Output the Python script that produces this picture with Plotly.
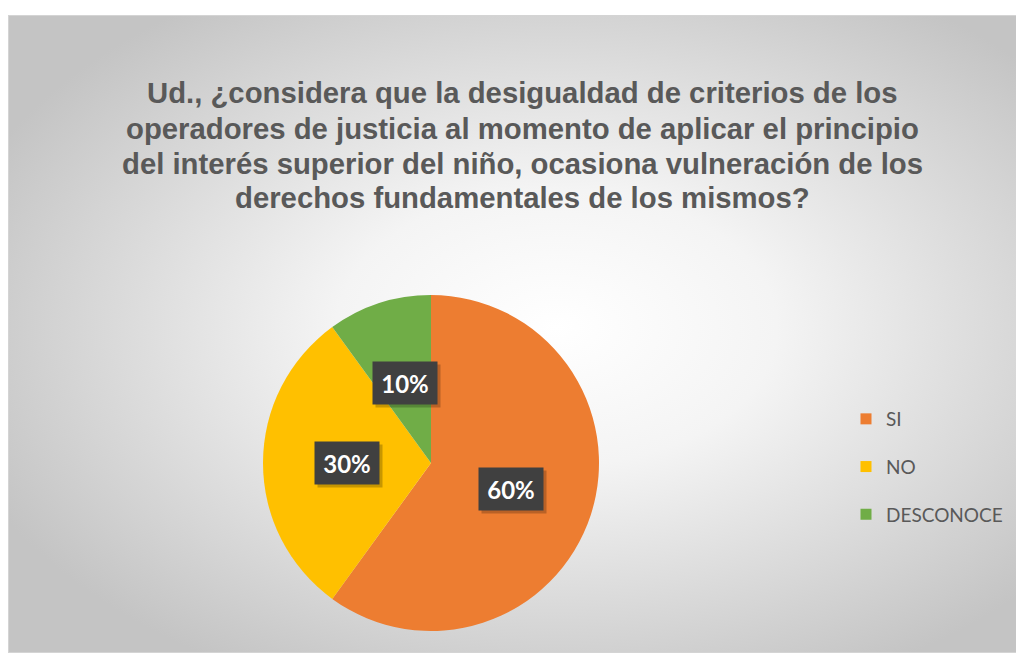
import base64
import math
import plotly.graph_objects as go

# ---- data ----
categories = ["SI", "NO", "DESCONOCE"]
values = [60, 30, 10]
colors = ["#ED7D31", "#FFC000", "#70AD47"]
title_lines = [
    "Ud., ¿considera que la desigualdad de criterios de los",
    "operadores de justicia al momento de aplicar el principio",
    "del interés superior del niño, ocasiona vulneración de los",
    "derechos fundamentales de los mismos?",
]

# figure is placed by the page with an 8px body margin
W, H = 1016, 645
dom_x = [255 / W, 591 / W]
dom_y = [22 / H, 358 / H]

fig = go.Figure()
fig.add_trace(go.Pie(
    labels=categories, values=values, sort=False, direction="clockwise",
    rotation=0, marker=dict(colors=colors, line=dict(width=0)),
    textinfo="none", showlegend=False,
    domain=dict(x=dom_x, y=dom_y),
))

# legend entries
for c, col in zip(categories, colors):
    fig.add_trace(go.Scatter(
        x=[None], y=[None], mode="markers", name=c, legendgroup=c,
        marker=dict(symbol="square", size=11, color=col),
    ))

# label boxes computed from data
total = sum(values)
cx = (dom_x[0] + dom_x[1]) / 2 * W
cy = (1 - (dom_y[0] + dom_y[1]) / 2) * H
r = min((dom_x[1] - dom_x[0]) * W, (dom_y[1] - dom_y[0]) * H) / 2
annotations = []
cum = 0
for v in values:
    mid = (cum + v / 2) / total * 2 * math.pi
    cum += v
    px = cx + 0.5 * r * math.sin(mid)
    py = cy - 0.5 * r * math.cos(mid)
    txt = f"{round(v / total * 100)}%"
    common = dict(x=px / W, y=1 - py / H, xref="paper", yref="paper",
                  xanchor="center", yanchor="middle",
                  showarrow=False, width=64, height=42, borderpad=0)
    annotations.append(dict(text=txt, xshift=3, yshift=-3,
                            bgcolor="rgba(0,0,0,0.22)",
                            font=dict(family="Lato", size=24, color="rgba(0,0,0,0)"),
                            **common))
    annotations.append(dict(text=f"<b>{txt}</b>", bgcolor="#404040",
                            font=dict(family="Lato", size=24, color="white"),
                            **common))

title_y = [84, 120, 155, 189]
for line, yy in zip(title_lines, title_y):
    annotations.append(dict(text=f"<b>{line}</b>", x=514 / W, y=1 - yy / H,
                            xref="paper", yref="paper", showarrow=False,
                            xanchor="center", yanchor="middle",
                            font=dict(family="Liberation Sans", size=29.3, color="#595959")))

svg = (
    '<svg xmlns="http://www.w3.org/2000/svg" width="1016" height="638" '
    'viewBox="0 0 1016 638" preserveAspectRatio="none"><defs>'
    '<radialGradient id="g" cx="0.54" cy="0.49" r="0.62">'
    '<stop offset="0" stop-color="#ffffff"/><stop offset="0.35" stop-color="#f4f4f4"/>'
    '<stop offset="1" stop-color="#c4c4c4"/></radialGradient></defs>'
    '<rect x="0.5" y="0.5" width="1015" height="637" fill="url(#g)" stroke="#d4d4d4"/></svg>'
)
src = "data:image/svg+xml;base64," + base64.b64encode(svg.encode()).decode()

fig.update_layout(
    width=W, height=H, margin=dict(l=0, r=0, t=0, b=0),
    paper_bgcolor="white", plot_bgcolor="rgba(0,0,0,0)",
    xaxis=dict(visible=False), yaxis=dict(visible=False),
    images=[dict(source=src, xref="paper", yref="paper", x=0, y=1 - 7 / H,
                 sizex=1, sizey=638 / H, xanchor="left", yanchor="top",
                 sizing="stretch", layer="below")],
    legend=dict(x=838 / W, y=1 - 392 / H, xanchor="left", yanchor="top",
                tracegroupgap=20, bgcolor="rgba(0,0,0,0)",
                font=dict(family="Lato", size=19, color="#595959")),
    annotations=annotations,
)

fig.write_html("out.html")
